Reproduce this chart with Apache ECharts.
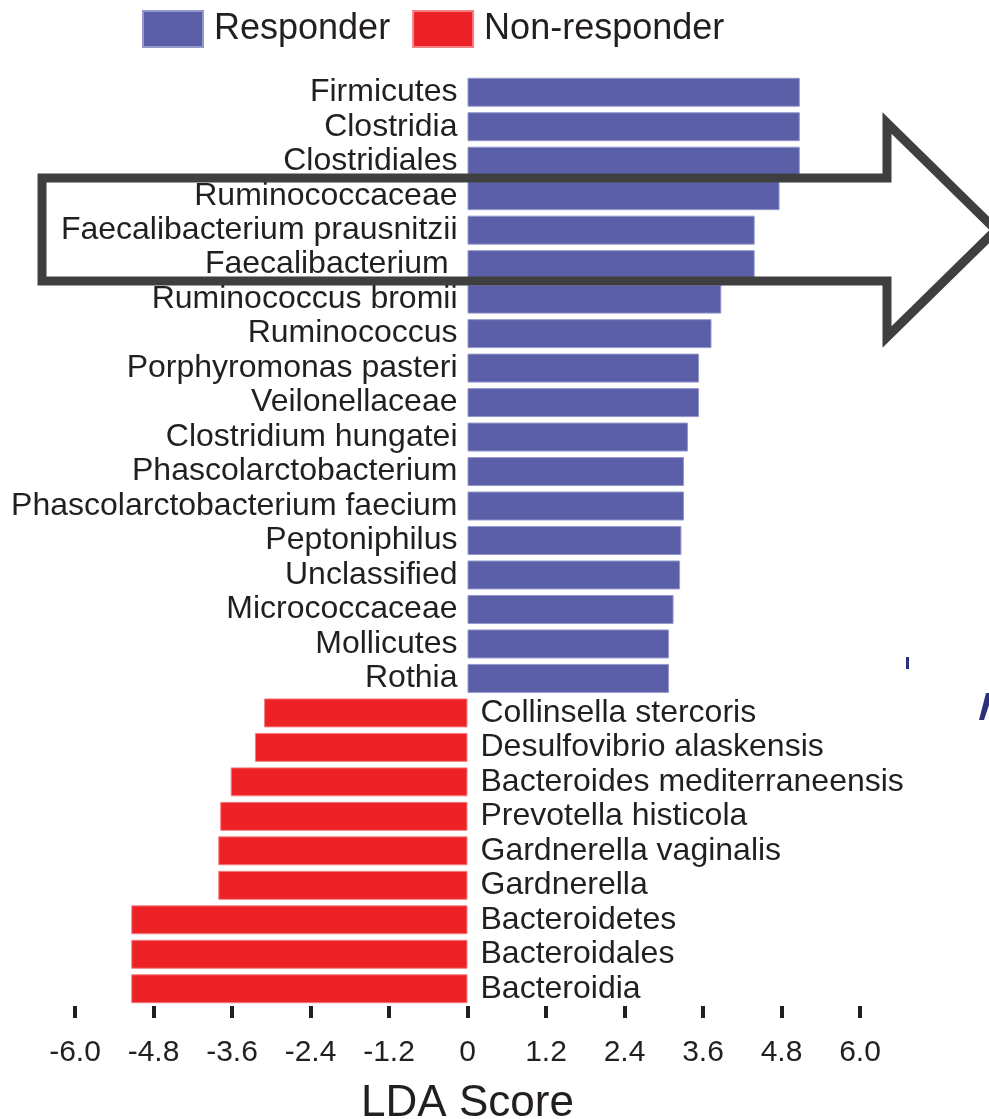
<!DOCTYPE html>
<html>
<head>
<meta charset="utf-8">
<script src="https://cdn.jsdelivr.net/npm/echarts@6/dist/echarts.min.js"></script>
<style>
  html, body { margin: 0; padding: 0; background: #ffffff; }
  #chart { width: 989px; height: 1119px; }
</style>
</head>
<body>
<div id="chart"></div>
<script>
// ---- Data ----
const categories = [
  'Firmicutes', 'Clostridia', 'Clostridiales', 'Ruminococcaceae',
  'Faecalibacterium prausnitzii', 'Faecalibacterium ', 'Ruminococcus bromii',
  'Ruminococcus', 'Porphyromonas pasteri', 'Veilonellaceae',
  'Clostridium hungatei', 'Phascolarctobacterium', 'Phascolarctobacterium faecium',
  'Peptoniphilus', 'Unclassified', 'Micrococcaceae', 'Mollicutes', 'Rothia',
  'Collinsella stercoris', 'Desulfovibrio alaskensis', 'Bacteroides mediterraneensis',
  'Prevotella histicola', 'Gardnerella vaginalis', 'Gardnerella',
  'Bacteroidetes', 'Bacteroidales', 'Bacteroidia'
];
const responderValues = [
  5.08, 5.08, 5.08, 4.77, 4.39, 4.39, 3.88, 3.73, 3.54, 3.54,
  3.37, 3.31, 3.31, 3.27, 3.25, 3.15, 3.08, 3.08,
  '-', '-', '-', '-', '-', '-', '-', '-', '-'
];
const nonResponderValues = [
  '-', '-', '-', '-', '-', '-', '-', '-', '-', '-',
  '-', '-', '-', '-', '-', '-', '-', '-',
  -3.11, -3.25, -3.62, -3.78, -3.81, -3.81, -5.14, -5.14, -5.14
];
const seriesNames = ['Responder', 'Non-responder'];
const axisTitle = 'LDA Score';

const textColor = '#231f20';
const fontFamily = '"Liberation Sans", Arial, Helvetica, sans-serif';

const chart = echarts.init(document.getElementById('chart'), null, { renderer: 'canvas' });

const option = {
  backgroundColor: '#ffffff',
  animation: false,
  textStyle: { fontFamily: fontFamily, color: textColor },
  legend: {
    left: 137,
    top: 5,
    itemWidth: 60,
    itemHeight: 36,
    itemGap: 22,
    icon: 'rect',
    textStyle: { fontSize: 36, color: textColor, fontFamily: fontFamily, padding: [0, 0, 0, 6] },
    data: seriesNames
  },
  grid: { left: 75, width: 785, top: 75, bottom: 113, containLabel: false, outerBoundsMode: 'none' },
  xAxis: {
    type: 'value',
    min: -6,
    max: 6,
    interval: 1.2,
    name: axisTitle,
    nameLocation: 'middle',
    nameGap: 76,
    nameTextStyle: { fontSize: 44, color: textColor, fontFamily: fontFamily },
    axisLine: { show: false },
    splitLine: { show: false },
    axisTick: { show: true, length: 12, lineStyle: { color: textColor, width: 4 } },
    axisLabel: {
      margin: 32,
      fontSize: 30,
      color: textColor,
      fontFamily: fontFamily,
      formatter: function (v) { return Math.abs(v) < 1e-9 ? '0' : v.toFixed(1); }
    }
  },
  yAxis: {
    type: 'category',
    data: categories,
    inverse: true,
    axisLine: { show: false },
    axisTick: { show: false },
    axisLabel: { show: false },
    splitLine: { show: false }
  },
  series: [
    {
      name: seriesNames[0],
      type: 'bar',
      data: responderValues,
      barCategoryGap: '16%',
      barGap: '-100%',
      itemStyle: { color: '#5a5fa8', borderColor: '#9598cc', borderWidth: 1 },
      label: {
        show: true,
        position: 'left',
        distance: 10,
        formatter: '{b}',
        fontSize: 32,
        color: textColor,
        fontFamily: fontFamily
      }
    },
    {
      name: seriesNames[1],
      type: 'bar',
      data: nonResponderValues,
      barCategoryGap: '16%',
      barGap: '-100%',
      itemStyle: { color: '#ec2227', borderColor: '#f38083', borderWidth: 1 },
      label: {
        show: true,
        position: 'right',
        distance: 13,
        formatter: '{b}',
        fontSize: 32,
        color: textColor,
        fontFamily: fontFamily
      }
    }
  ],
  graphic: [
    {
      type: 'polygon',
      z: 100,
      shape: {
        points: [[42, 178], [887, 178], [887, 123], [996, 230], [887, 337], [887, 281], [42, 281]]
      },
      style: { fill: 'none', stroke: '#3f3f3f', lineWidth: 9, lineJoin: 'miter' }
    },
    {
      type: 'rect',
      z: 100,
      shape: { x: 906, y: 657, width: 3, height: 12 },
      style: { fill: '#2b2f7c' }
    },
    {
      type: 'polygon',
      z: 100,
      shape: { points: [[979, 720], [986, 693], [989, 693], [989, 705], [984, 720]] },
      style: { fill: '#2b2f7c' }
    }
  ]
};

chart.setOption(option);
</script>
</body>
</html>
